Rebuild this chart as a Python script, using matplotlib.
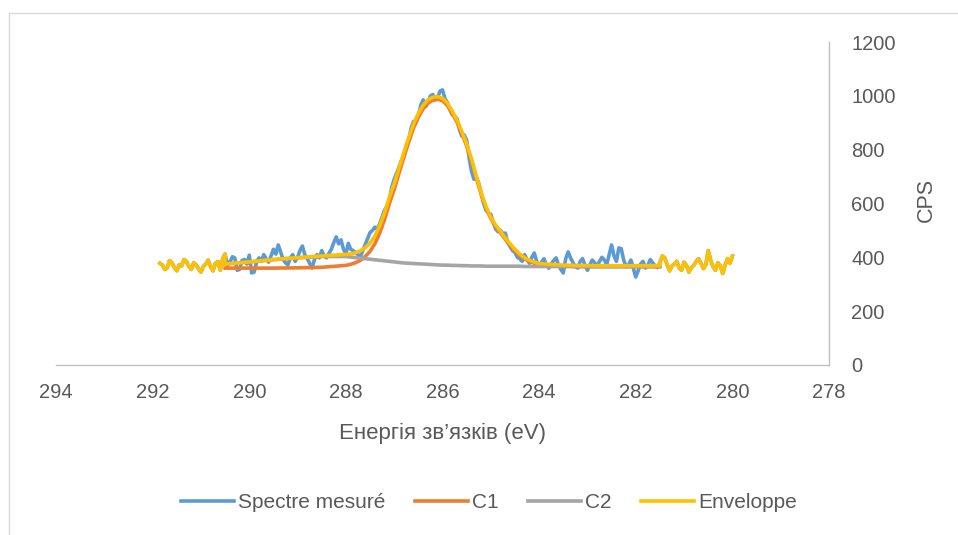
import matplotlib
matplotlib.use("Agg")
import matplotlib.pyplot as plt
from matplotlib.lines import Line2D
import numpy as np

plt.rcParams['font.family'] = ['Liberation Sans', 'DejaVu Sans']

# measured spectrum, 291.85 -> 280.00 eV, 0.05 eV step
spectre = [378, 372, 355, 360, 388, 380, 362, 350, 372, 368,
           392, 385, 366, 355, 380, 372, 358, 345, 366, 375,
           390, 365, 350, 378, 384, 352, 395, 412, 370, 382,
           402, 398, 352, 355, 388, 392, 375, 408, 342, 345,
           380, 398, 385, 410, 395, 382, 405, 430, 412, 446,
           420, 392, 380, 372, 398, 410, 385, 400, 425, 442,
           410, 395, 378, 360, 392, 410, 398, 425, 405, 398,
           415, 430, 455, 476, 450, 465, 430, 412, 452, 430,
           425, 418, 410, 402, 425, 448, 470, 492, 500, 512,
           505, 525, 550, 575, 590, 615, 660, 690, 712, 735,
           760, 775, 815, 835, 880, 905, 900, 925, 965, 985,
           960, 975, 1000, 1005, 985, 995, 1018, 1022, 990, 975,
           950, 930, 925, 915, 875, 850, 855, 835, 770, 720,
           690, 700, 675, 640, 600, 575, 565, 560, 530, 505,
           495, 500, 488, 490, 455, 440, 425, 418, 400, 395,
           385, 410, 392, 378, 400, 416, 385, 370, 382, 395,
           372, 360, 375, 388, 398, 372, 355, 342, 395, 420,
           398, 380, 365, 360, 385, 395, 370, 352, 372, 390,
           380, 368, 385, 400, 390, 372, 410, 446, 405, 385,
           435, 432, 390, 365, 372, 390, 360, 327, 350, 375,
           385, 360, 370, 392, 380, 368, 362, 380, 405, 398,
           372, 350, 368, 375, 385, 360, 352, 382, 370, 345,
           362, 370, 385, 395, 378, 358, 372, 425, 390, 365,
           352, 380, 368, 340, 372, 395, 378, 405]
energie = np.round(np.linspace(291.85, 280.0, len(spectre)), 2)

# fitted components
energie_fit = [290.5, 290.0, 289.5, 289.0, 288.5, 288.0,
               287.9, 287.8, 287.7, 287.6, 287.5, 287.4, 287.3, 287.2, 287.1, 287.0,
               286.9, 286.8, 286.7, 286.6, 286.5, 286.4, 286.3, 286.2, 286.1, 286.0,
               285.9, 285.8, 285.7, 285.6, 285.5, 285.4, 285.3, 285.2, 285.1, 285.0,
               284.9, 284.8, 284.7, 284.6, 284.5, 284.4, 284.3, 284.2, 284.1, 284.0,
               283.5, 283.0, 282.5, 282.0, 281.5]
c1 = [360, 360, 360, 361, 363, 370,
      374, 380, 389, 403, 422, 450, 490, 540, 600, 652,
      712, 772, 828, 880, 921, 952, 973, 984, 987, 982,
      964, 936, 902, 861, 814, 760, 694, 634, 584, 544,
      515, 491, 467, 445, 425, 407, 394, 385, 378, 373,
      367, 366, 366, 366, 366]
c2 = [375, 383, 391, 398, 403, 403,
      401, 399, 397, 395, 393, 391, 389, 387, 385, 383,
      381, 379, 378, 377, 376, 375, 374, 373, 372, 371,
      371, 370, 370, 369, 369, 368, 368, 368, 367, 367,
      367, 367, 367, 367, 367, 367, 366, 366, 366, 366,
      366, 365, 365, 365, 365]
enveloppe = [375, 383, 392, 399, 405, 411,
             413, 417, 424, 436, 453, 479, 517, 565, 623, 673,
             731, 789, 844, 895, 935, 965, 985, 995, 997, 991,
             973, 944, 910, 868, 821, 766, 700, 640, 589, 549,
             520, 496, 472, 450, 430, 412, 398, 389, 382, 377,
             371, 369, 369, 369, 369]

labels = ['Spectre mesuré', 'C1', 'C2', 'Enveloppe']
colors = ['#5B9BD5', '#ED7D31', '#A5A5A5', '#FFC000']

# envelope = measured data outside the fit window
gauche = energie >= 290.5
droite = energie <= 281.5
env_x = np.concatenate([energie[gauche], energie_fit, energie[droite]])
env_y = np.concatenate([np.array(spectre)[gauche], enveloppe, np.array(spectre)[droite]])

fig = plt.figure(figsize=(9.58, 5.35), dpi=100)
ax = fig.add_axes([56/958, 1-365/535, (829-56)/958, (365-42)/535])

lw = 2.6
ax.plot(energie, spectre, color=colors[0], lw=lw, label=labels[0])
ax.plot(energie_fit, c1, color=colors[1], lw=lw, label=labels[1])
ax.plot(energie_fit, c2, color=colors[2], lw=lw, label=labels[2])
ax.plot(env_x, env_y, color=colors[3], lw=lw, label=labels[3])

ax.set_xlim(294, 278)
ax.set_ylim(0, 1200)
ax.set_xticks(np.arange(294, 277, -2))
ax.set_yticks(np.arange(0, 1201, 200))
ax.yaxis.tick_right()
for s in ['top', 'left']:
    ax.spines[s].set_visible(False)
for s in ['bottom', 'right']:
    ax.spines[s].set_color('#BFBFBF')
    ax.spines[s].set_linewidth(1.0)
ax.tick_params(axis='both', length=0, labelsize=14.5, colors='#595959')
ax.tick_params(axis='x', pad=13)
ax.tick_params(axis='y', pad=16)

ax.set_xlabel('Енергія зв’язків (eV)', fontsize=16, color='#595959')
ax.xaxis.set_label_coords(0.5, -0.18)
ax.set_ylabel('CPS', fontsize=15.5, color='#595959')
ax.yaxis.set_label_position('right')
ax.yaxis.set_label_coords(1.113, 0.51)
ax.yaxis.label.set_rotation(90)

fig.legend(loc='center', bbox_to_anchor=(489/958, 1-503/535), ncol=4, frameon=False,
           fontsize=15, handlelength=2.55, handletextpad=0.2, columnspacing=1.4,
           labelcolor='#595959')

# chart frame
fig.add_artist(Line2D([8.6/958, 8.6/958], [0, 1-13/535], transform=fig.transFigure,
                      color='#D9D9D9', lw=1))
fig.add_artist(Line2D([8.6/958, 1], [1-13/535, 1-13/535], transform=fig.transFigure,
                      color='#D9D9D9', lw=1))

fig.savefig('out.png', dpi=100)
